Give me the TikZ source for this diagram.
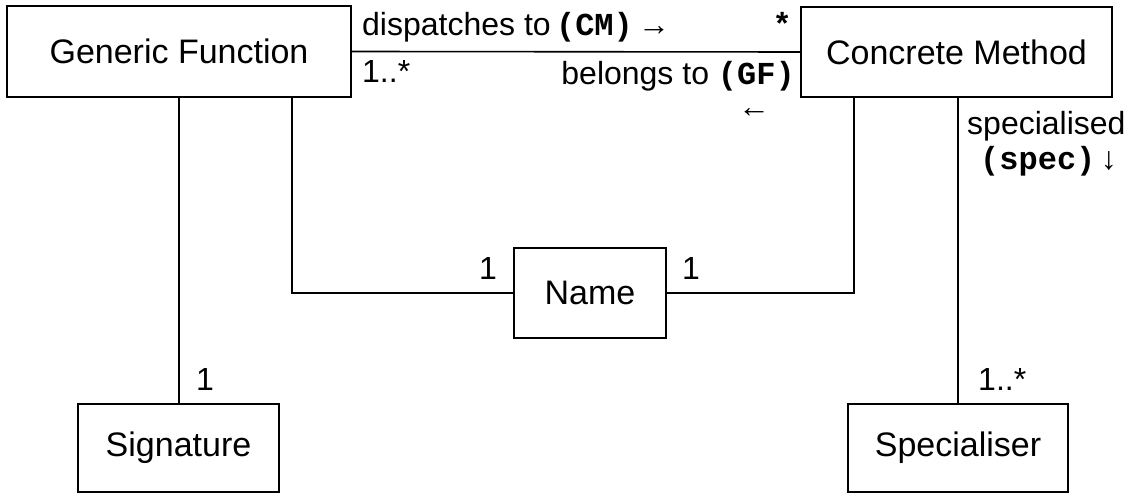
\documentclass[tikz,border=0pt]{standalone}
\usepackage{fontspec}
\setmainfont{Liberation Sans}
\newfontfamily\monob{Liberation Mono}
\begin{document}
\begin{tikzpicture}[x=1pt,y=-1pt,
  box/.style={draw,line width=1.6pt,inner sep=0pt,font=\fontsize{34}{40}\selectfont},
  lbl/.style={inner sep=0pt,font=\fontsize{32}{38}\selectfont},
  conn/.style={line width=1.6pt}]
\useasboundingbox[fill=white] (0,0) rectangle (1138,494);
\node[box,minimum width=344pt,minimum height=91pt] (gf) at (179,51.5) {Generic Function};
\node[box,minimum width=311pt,minimum height=90pt] (cm) at (956.5,52) {Concrete Method};
\node[box,minimum width=152pt,minimum height=90pt] (name) at (590,293) {Name};
\node[box,minimum width=201pt,minimum height=88pt] (sig) at (178.5,448) {Signature};
\node[box,minimum width=220pt,minimum height=88pt] (spec) at (958,448) {Specialiser};
\draw[conn] (gf.east) -- (cm.west);
\draw[conn] (gf.south) -- (gf.south |- sig.north);
\draw[conn] ([xshift=286pt]gf.south west) |- (name.west);
\draw[conn] ([xshift=54pt]cm.south west) |- (name.east);
\draw[conn] (spec.north |- cm.south) -- (spec.north);
\node[lbl,anchor=base west] (l1) at (362,36) {dispatches to\,{\monob\bfseries(CM)}\,→};
\node[lbl,anchor=base east] (l2) at (792,36) {{\monob\bfseries *}};
\node[lbl,anchor=base west] (l3) at (362,83) {1..*};
\node[lbl,anchor=base east] (l4) at (795,85) {belongs to {\monob\bfseries(GF)}};
\node[lbl,anchor=center] (l5) at (754,113) {←};
\node[lbl,anchor=base west] (l6) at (967,135) {specialised};
\node[lbl,anchor=base west] (l7) at (980,170) {{\monob\bfseries(spec)}\,↓};
\node[lbl,anchor=base west] (l8) at (196,390) {1};
\node[lbl,anchor=base west] (l9) at (978,390) {1..*};
\node[lbl,anchor=base west] (l10) at (479,280) {1};
\node[lbl,anchor=base west] (l11) at (682,280) {1};
\end{tikzpicture}
\end{document}
